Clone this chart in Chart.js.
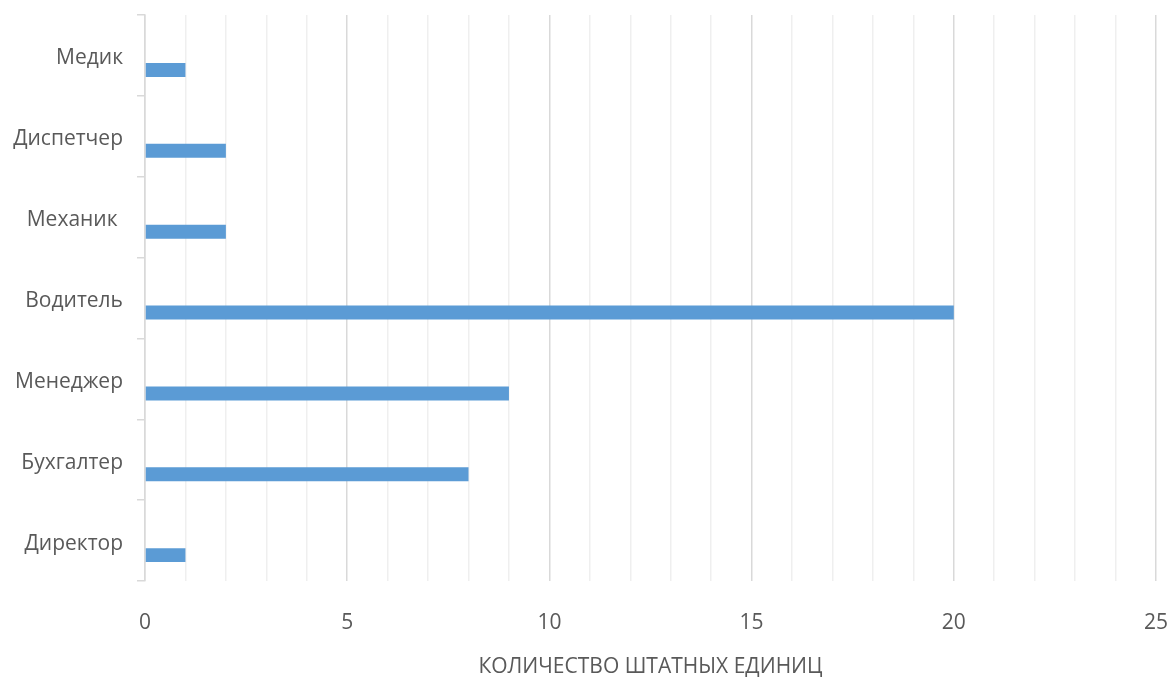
<!DOCTYPE html>
<html>
<head>
<meta charset="utf-8">
<script src="https://cdn.jsdelivr.net/npm/chart.js@4.4.1/dist/chart.umd.min.js"></script>
<style>
    html, body { margin: 0; padding: 0; background: #fff; }
    /* canvas fills the window */
    .chart-container { width: 1172px; height: 681px; }
</style>
</head>
<body>
<div class="chart-container"><canvas id="staff"></canvas></div>
<script>
    // Staff positions, top to bottom
    const positions = ['Медик', 'Диспетчер', 'Механик ', 'Водитель', 'Менеджер', 'Бухгалтер', 'Директор'];
    // Number of staff units per position
    const staffUnits = [1, 2, 2, 20, 9, 8, 1];
    // Empty companion series (keeps the bar in the lower half of each row)
    const emptySeries = [null, null, null, null, null, null, null];
    const axisMax = 25;
    const axisTitle = 'КОЛИЧЕСТВО ШТАТНЫХ ЕДИНИЦ';

    const textColor = '#595959';
    const fontFamily = '"Open Sans", "DejaVu Sans", sans-serif';

    new Chart(document.getElementById('staff'), {
        type: 'bar',
        data: {
            labels: positions,
            datasets: [
                { label: '', data: emptySeries, backgroundColor: '#ed7d31' },
                { label: 'Количество', data: staffUnits, backgroundColor: '#5b9bd5' }
            ]
        },
        options: {
            indexAxis: 'y',
            responsive: true,
            maintainAspectRatio: false,
            animation: false,
            categoryPercentage: 0.72,
            barPercentage: 0.48,
            layout: { padding: { top: 15, right: 16, bottom: 0, left: 0 } },
            plugins: {
                legend: { display: false },
                tooltip: { enabled: false }
            },
            scales: {
                x: {
                    min: 0,
                    max: axisMax,
                    ticks: {
                        stepSize: 1,
                        autoSkip: false,
                        maxRotation: 0,
                        padding: 29,
                        color: textColor,
                        font: { family: fontFamily, size: 21 },
                        callback: (v) => (v % 5 === 0 ? v : '')
                    },
                    grid: {
                        drawTicks: false,
                        color: (ctx) => (ctx.tick && ctx.tick.value % 5 === 0 ? '#d9d9d9' : '#efefef'),
                        lineWidth: 1.5
                    },
                    border: { display: false },
                    title: {
                        display: true,
                        text: axisTitle,
                        color: textColor,
                        font: { family: fontFamily, size: 21 },
                        padding: { top: 4, bottom: 1 }
                    },
                    afterFit: (scale) => {
                        scale.height = 100;
                        scale.paddingLeft = 0;
                        scale.paddingRight = 0;
                    }
                },
                y: {
                    ticks: {
                        color: textColor,
                        padding: 14,
                        labelOffset: 3,
                        font: { family: fontFamily, size: 21 }
                    },
                    grid: {
                        offset: true,
                        drawOnChartArea: false,
                        drawTicks: true,
                        tickLength: 8,
                        color: '#d9d9d9',
                        lineWidth: 1.5
                    },
                    border: { display: true, color: '#d9d9d9', width: 1.5 },
                    afterFit: (scale) => {
                        scale.width = 145;
                        scale.paddingTop = 0;
                        scale.paddingBottom = 0;
                    }
                }
            }
        }
    });
</script>
</body>
</html>
